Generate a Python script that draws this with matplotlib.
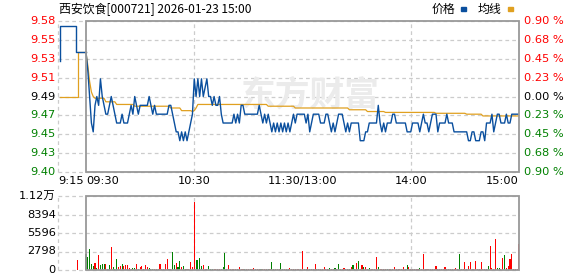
import numpy as np
import matplotlib.pyplot as plt
from matplotlib.patches import Rectangle

plt.rcParams['font.family'] = ['DejaVu Sans', 'Noto Sans CJK SC']

# ---- data ----
title = "西安饮食[000721] 2026-01-23 15:00"
prev_close = 9.49
pct_range = 0.009

price_labels = ["9.40", "9.43", "9.45", "9.47", "9.49", "9.51", "9.53", "9.55", "9.58"]
pct_labels = ["0.90 %", "0.68 %", "0.45 %", "0.23 %", "0.00 %", "0.23 %", "0.45 %", "0.68 %", "0.90 %"]
vol_labels = ["0", "2798", "5596", "8394", "1.12万"]
vol_max = 11192

# call auction 9:15-9:25 (minutes after 9:15)
pre_t = [0.7, 0.75, 6.4, 10]
pre_price = [9.53, 9.57, 9.54, 9.54]
pre_avg_t = [0.7, 7.1, 10]
pre_avg = [9.49, 9.54, 9.54]
pre_vol_t = [7.1]
pre_vol = [1512]

# one value per minute, 09:30 .. 15:00 (241 points)
price = [
    9.54, 9.52, 9.49, 9.46, 9.45, 9.48, 9.49, 9.48, 9.51, 9.49, 9.48, 9.47, 9.47, 9.48, 9.49, 9.48, 9.47, 9.46, 9.46, 9.46,
    9.47, 9.46, 9.46, 9.46, 9.47, 9.48, 9.47, 9.49, 9.48, 9.47, 9.48, 9.48, 9.48, 9.48, 9.48, 9.49, 9.48, 9.47, 9.48, 9.47,
    9.47, 9.47, 9.47, 9.47, 9.47, 9.47, 9.48, 9.48, 9.47, 9.46, 9.45, 9.45, 9.44, 9.45, 9.44, 9.45, 9.44, 9.45, 9.46, 9.47,
    9.51, 9.49, 9.51, 9.49, 9.51, 9.49, 9.50, 9.51, 9.49, 9.49, 9.48, 9.49, 9.48, 9.48, 9.49, 9.47, 9.46, 9.46, 9.46, 9.46,
    9.46, 9.46, 9.47, 9.46, 9.47, 9.46, 9.48, 9.48, 9.47, 9.47, 9.47, 9.47, 9.47, 9.47, 9.47, 9.47, 9.48, 9.47, 9.46, 9.47,
    9.46, 9.47, 9.46, 9.45, 9.46, 9.45, 9.46, 9.45, 9.46, 9.45, 9.46, 9.45, 9.46, 9.45, 9.46, 9.47, 9.46, 9.47, 9.47, 9.47,
    9.47, 9.47, 9.46, 9.47, 9.45, 9.46, 9.47, 9.47, 9.47, 9.47, 9.46, 9.46, 9.46, 9.47, 9.47, 9.46, 9.45, 9.46, 9.45, 9.46,
    9.47, 9.47, 9.47, 9.46, 9.45, 9.46, 9.45, 9.46, 9.46, 9.46, 9.46, 9.46, 9.44, 9.44, 9.44, 9.45, 9.45, 9.46, 9.46, 9.46,
    9.46, 9.46, 9.48, 9.46, 9.45, 9.46, 9.45, 9.46, 9.46, 9.46, 9.47, 9.47, 9.46, 9.46, 9.46, 9.46, 9.46, 9.46, 9.45, 9.45,
    9.45, 9.46, 9.46, 9.46, 9.46, 9.45, 9.46, 9.47, 9.46, 9.46, 9.45, 9.46, 9.47, 9.47, 9.47, 9.45, 9.46, 9.46, 9.46, 9.46,
    9.47, 9.46, 9.46, 9.46, 9.45, 9.45, 9.45, 9.45, 9.45, 9.45, 9.45, 9.45, 9.44, 9.44, 9.45, 9.45, 9.44, 9.44, 9.44, 9.45,
    9.45, 9.44, 9.46, 9.46, 9.46, 9.47, 9.45, 9.46, 9.47, 9.47, 9.46, 9.46, 9.46, 9.47, 9.46, 9.46, 9.47, 9.47, 9.47, 9.47,
    9.47,
]

avg_line = ([9.540, 9.525, 9.507, 9.495, 9.490] + [9.488] * 6 + [9.484] * 6 + [9.481] * 10
            + [9.479] * 20 + [9.477] * 6 + [9.474] * 6 + [9.473, 9.474, 9.477] + [9.481] * 39
            + [9.479] * 15 + [9.477] * 30 + [9.475] * 10 + [9.473] * 10 + [9.472] * 28
            + [9.471] * 17 + [9.470] * 9 + [9.468] * 21)

volume = [
    2419, 2016, 3125, 900, 600, 1058, 300, 2268, 750, 900, 900, 900, 200, 750, 3478, 450, 200, 1663, 400, 550,
    900, 600, 700, 700, 350, 200, 250, 300, 900, 200, 500, 550, 200, 700, 500, 300, 150, 150, 150, 150,
    150, 850, 200, 200, 950, 1663, 200, 200, 2722, 750, 1058, 500, 1361, 450, 600, 200, 200, 200, 1210, 450,
    10282, 1512, 1512, 1814, 550, 700, 150, 200, 550, 150, 150, 200, 150, 150, 150, 200, 450, 2570, 150, 750,
    150, 150, 150, 150, 150, 450, 150, 150, 150, 150, 150, 150, 150, 300, 150, 150, 150, 150, 150, 150,
    150, 150, 150, 1210, 150, 150, 150, 150, 1058, 150, 150, 150, 150, 300, 150, 150, 150, 150, 150, 150,
    2873, 150, 150, 450, 200, 150, 150, 900, 200, 150, 150, 150, 450, 150, 150, 300, 150, 150, 300, 150,
    900, 150, 150, 300, 150, 150, 150, 450, 750, 150, 1058, 1361, 150, 750, 450, 450, 150, 300, 150, 150,
    150, 1966, 450, 150, 150, 150, 150, 150, 150, 150, 150, 450, 150, 150, 150, 150, 450, 150, 750, 450,
    150, 150, 150, 150, 150, 300, 150, 2419, 150, 150, 150, 150, 150, 150, 600, 150, 150, 150, 150, 450,
    150, 150, 150, 150, 150, 300, 150, 2419, 150, 150, 1210, 150, 600, 1210, 150, 150, 1361, 150, 150, 1210,
    150, 150, 150, 600, 3629, 300, 150, 4687, 300, 300, 150, 1815, 2268, 300, 600, 1663, 2419, 150, 150, 150,
    4000,
]
# R = up minute (red), G = down minute (green)
vol_dir = ("GGGGGRGRGGGRRGRGGGRR"
           "GRRRRRGGRGRRGRRGGGRR"
           "RRGRRRGRGGRGGRGGRRRR"
           "RGGGGRRRGGGRRRRGGGRR"
           "RRRRRRRRGRRRRRRRRGRR"
           "RGRGGRRRGGRRRRRRRRRR"
           "RRGRGRRRGRRRRRRGRRGR"
           "GRRRRRGRGRRGRRGRRGRR"
           "RRGRRRRGRRRRRRRRRRGR"
           "RRRRRGRRRRRRRRRRRRRR"
           "RRRRRRRGRRRRRRRRRRRR"
           "RRRGRRRRGGRRGRRRRRRR"
           "R")

x_ticks = [0, 60, 120, 180, 240]
x_labels = ["09:30", "10:30", "11:30/13:00", "14:00", "15:00"]

# ---- layout ----
W, H = 578, 276
fig = plt.figure(figsize=(W / 100, H / 100), dpi=100)

def px_axes(x0, y0, x1, y1):
    return fig.add_axes([x0 / W, 1 - y1 / H, (x1 - x0) / W, (y1 - y0) / H])

blue = '#0a4f9e'
orange = '#e0a020'
grid_c = '#cccccc'
box_c = '#999999'
dash = (0, (3, 2.5))

pre_len = 15.52          # width of call-auction area in minute units
lo = prev_close * (1 - pct_range)
hi = prev_close * (1 + pct_range)
minutes = np.arange(len(price))

def pre_x(t):
    return -pre_len + np.array(t) * pre_len / 10

def frame(ax, y0, y1):
    ax.set_xlim(-pre_len, 240)
    ax.set_ylim(y0, y1)
    for s in ax.spines.values():
        s.set_visible(False)
    ax.set_xticks([])
    ax.set_yticks([])
    ax.patch.set_alpha(0)
    ax.axvline(-pre_len, color=grid_c, lw=0.9, ls=dash, zorder=0.8, clip_on=False)
    for m in [60, 180]:
        ax.axvline(m, color=grid_c, lw=0.9, ls=dash, zorder=0.8)
    ax.add_patch(Rectangle((0, y0), 240, y1 - y0, fill=False, ec=box_c, lw=1.3,
                           zorder=5, clip_on=False))

# price panel
ax = px_axes(58, 21, 519, 172)
frame(ax, lo, hi)
levels = np.linspace(lo, hi, 9)
for i, lv in enumerate(levels):
    ax.axhline(lv, color=grid_c, lw=0.9, ls=dash, zorder=0.8, clip_on=False)
    c = 'black' if i == 4 else ('#ff0000' if i > 4 else '#008000')
    ax.text(-pre_len - 1.2, lv, price_labels[i], ha='right', va='center', color=c, fontsize=8.2)
    ax.text(243, lv, pct_labels[i], ha='left', va='center', color=c, fontsize=8.2)

ax.plot(pre_x(pre_avg_t), pre_avg, color=orange, lw=0.9, drawstyle='steps-post', zorder=3)
ax.plot(pre_x(pre_t), pre_price, color=blue, lw=1.0, drawstyle='steps-post', zorder=4)
ax.plot(minutes, avg_line, color=orange, lw=0.9, zorder=3)
ax.plot(minutes, price, color=blue, lw=1.0, zorder=4)

ax.text(310 / W, 1 - 95 / H, "东方财富", transform=fig.transFigure, ha='center', va='center',
        fontsize=25, fontweight='bold', color='#ebebeb', zorder=1,
        family=['Noto Sans CJK SC', 'DejaVu Sans'])

# time labels
ty = 1 - 181 / H
fig.text(58 / W, ty, "9:15", ha='left', va='center', fontsize=8.2)
for m, lab in zip(x_ticks, x_labels):
    x = (86 + m * 433 / 240) / W
    ha = 'left' if m == 0 else ('right' if m == 240 else 'center')
    fig.text(x, ty, lab, ha=ha, va='center', fontsize=8.2)

# title and legend
fig.text(59 / W, 1 - 9 / H, title, ha='left', va='center', fontsize=8.6,
         family=['Noto Sans CJK SC', 'DejaVu Sans'])
fig.text(432 / W, 1 - 9 / H, "价格", ha='left', va='center', fontsize=8.6,
         family=['Noto Sans CJK SC', 'DejaVu Sans'])
fig.text(478 / W, 1 - 9 / H, "均线", ha='left', va='center', fontsize=8.6,
         family=['Noto Sans CJK SC', 'DejaVu Sans'])
fig.patches.append(Rectangle((461 / W, 1 - 10.5 / H), 5 / W, 3 / H, color=blue,
                             transform=fig.transFigure, figure=fig))
fig.patches.append(Rectangle((508 / W, 1 - 10.5 / H), 5 / W, 3 / H, color=orange,
                             transform=fig.transFigure, figure=fig))

# volume panel
av = px_axes(58, 196, 519, 270)
frame(av, 0, vol_max)
vlevels = np.linspace(0, vol_max, 5)
for lv, lab in zip(vlevels, vol_labels):
    av.axhline(lv, color=grid_c, lw=0.9, ls=dash, zorder=0.8, clip_on=False)
    av.text(-pre_len - 1.2, lv, lab, ha='right', va='center', color='black', fontsize=8.2)
colors = ['#ff0000' if d == 'R' else '#008000' for d in vol_dir]
av.bar(minutes, volume, width=0.6, color=colors, lw=0, antialiased=False, zorder=3)
av.bar(pre_x(pre_vol_t), pre_vol, width=0.6, color='#ff0000', lw=0, antialiased=False, zorder=3)

fig.savefig('out.png', dpi=100)
